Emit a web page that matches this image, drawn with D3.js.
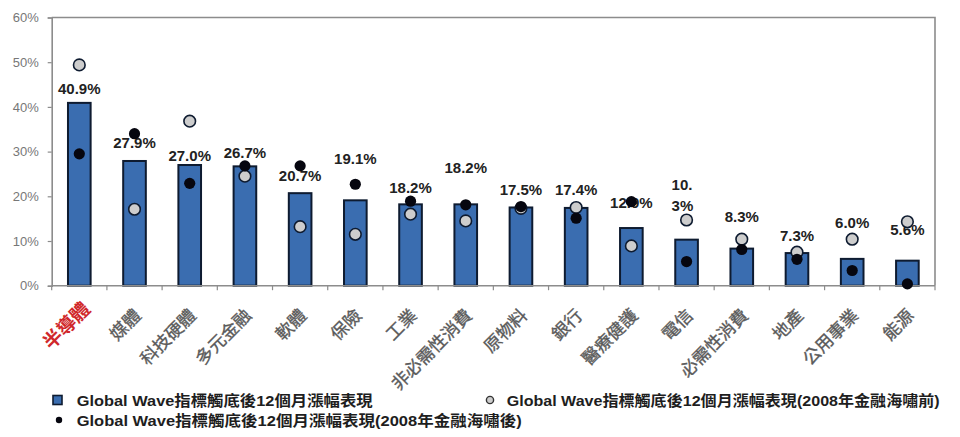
<!DOCTYPE html>
<html>
<head>
<meta charset="utf-8">
<script src="https://cdn.jsdelivr.net/npm/d3@7"></script>
<style>
  html, body { margin: 0; padding: 0; background: #fff; }
  svg { display: block; }
</style>
</head>
<body>
<svg id="chart" width="960" height="437"></svg>
<script>
// ---- data ----
const categories = ["半導體","媒體","科技硬體","多元金融","軟體","保險","工業","非必需性消費","原物料","銀行","醫療健護","電信","必需性消費","地產","公用事業","能源"];
const allPeriods = [40.9, 27.9, 27.0, 26.7, 20.7, 19.1, 18.2, 18.2, 17.5, 17.4, 12.9, 10.3, 8.3, 7.3, 6.0, 5.6];
const pre2008 = [49.4, 17.1, 36.8, 24.5, 13.2, 11.5, 16.0, 14.5, 17.3, 17.5, 8.9, 14.7, 10.4, 7.5, 10.4, 14.3];
const post2008 = [29.5, 34.0, 22.9, 26.8, 26.8, 22.7, 18.9, 18.1, 17.7, 15.1, 18.8, 5.4, 8.1, 5.9, 3.4, 0.4];
const barLabels = ["40.9%","27.9%","27.0%","26.7%","20.7%","19.1%","18.2%","18.2%","17.5%","17.4%","12.9%","10.|3%","8.3%","7.3%","6.0%","5.6%"];
const labelAt = [44.0, 31.9, 29.0, 29.8, 24.6, 28.3, 22.0, 26.4, 21.4, 21.4, 18.6, 22.5, 15.4, 11.2, 14.0, 12.5];
const yTicks = [0, 10, 20, 30, 40, 50, 60];
const legendLabels = [
  "Global Wave指標觸底後12個月漲幅表現",
  "Global Wave指標觸底後12個月漲幅表現(2008年金融海嘯前)",
  "Global Wave指標觸底後12個月漲幅表現(2008年金融海嘯後)"
];

// ---- layout ----
const L = 51.7, R = 935, T = 17.5, B = 285.7;
const svg = d3.select("#chart");

const x = d3.scaleBand().domain(categories).range([L, R]).paddingInner(0.59).paddingOuter(0.295);
const y = d3.scaleLinear().domain([0, 60]).range([B, T]);
const step = x.step();

const barFill = "#3a6db0", barStroke = "#0e1b30";
const grayFill = "#cdcdcd", dotFill = "#06060f";
const frame = "#8c8c8c";

// frame (top & right)
svg.append("path")
  .attr("d", `M${L},${T}H${R}V${B}`)
  .attr("fill", "none").attr("stroke", frame).attr("stroke-width", 1.6);

// y axis
const yAxis = svg.append("g").attr("transform", `translate(${L},0)`)
  .call(d3.axisLeft(y).tickValues(yTicks).tickFormat(d => d + "%").tickSize(4).tickPadding(9));
yAxis.select(".domain").attr("stroke", frame).attr("stroke-width", 1.6);
yAxis.selectAll(".tick line").attr("stroke", frame).attr("stroke-width", 1.2);
yAxis.selectAll(".tick text").attr("fill", "#777")
  .style("font-family", "'Liberation Sans', Arial, sans-serif").style("font-size", "13px");

// bars
svg.append("g").selectAll("rect").data(categories).join("rect")
  .attr("x", d => x(d))
  .attr("y", (d, i) => y(allPeriods[i]))
  .attr("width", x.bandwidth())
  .attr("height", (d, i) => y(0) - y(allPeriods[i]))
  .attr("fill", barFill).attr("stroke", barStroke).attr("stroke-width", 2);

// x axis line and ticks between bands
svg.append("line").attr("x1", L).attr("x2", R).attr("y1", B).attr("y2", B)
  .attr("stroke", frame).attr("stroke-width", 1.6);
const boundaries = categories.map(c => x(c) - step * x.paddingInner() / 2).concat([R]);
svg.append("g").selectAll("line").data(boundaries).join("line")
  .attr("x1", d => d).attr("x2", d => d).attr("y1", B).attr("y2", B + 4.5)
  .attr("stroke", frame).attr("stroke-width", 1.2);

// x labels
svg.append("g").selectAll("text").data(categories).join("text")
  .attr("transform", (d, i) => `translate(${x(d) + x.bandwidth() / 2 + (i === 0 ? 12 : 7.5)},${B + (i === 0 ? 24.5 : 31)}) rotate(-45)`)
  .attr("text-anchor", "end")
  .attr("fill", (d, i) => i === 0 ? "#d0282b" : "#5a5a5a")
  .attr("stroke", (d, i) => i === 0 ? "none" : "#5a5a5a")
  .attr("stroke-width", 0.35)
  .style("font-family", "'Noto Sans CJK TC', sans-serif")
  .style("font-size", (d, i) => i === 0 ? "19px" : "17.5px")
  .style("font-weight", (d, i) => i === 0 ? "bold" : "normal")
  .text(d => d);

// bar value labels
const lbl = svg.append("g").selectAll("text").data(categories).join("text")
  .attr("x", d => x(d) + x.bandwidth() / 2)
  .attr("y", (d, i) => y(labelAt[i]))
  .attr("dy", "0.35em")
  .attr("text-anchor", "middle")
  .attr("fill", "#222")
  .style("font-family", "'Liberation Sans', Arial, sans-serif")
  .style("font-size", "15px").style("font-weight", "bold");
lbl.each(function(d, i) {
  const parts = barLabels[i].split("|");
  const t = d3.select(this);
  if (parts.length === 1) { t.text(parts[0]); return; }
  t.attr("text-anchor", "start");
  const x0 = x(d) + x.bandwidth() / 2 - 15;
  parts.forEach((p, k) => t.append("tspan").attr("x", x0).attr("dy", k === 0 ? "0.35em" : "1.35em").text(p));
});

// pre-2008 dots (gray)
svg.append("g").selectAll("circle").data(categories).join("circle")
  .attr("cx", d => x(d) + x.bandwidth() / 2)
  .attr("cy", (d, i) => y(pre2008[i]))
  .attr("r", 5.8)
  .attr("fill", grayFill).attr("stroke", barStroke).attr("stroke-width", 1.6);

// post-2008 dots (black)
svg.append("g").selectAll("circle").data(categories).join("circle")
  .attr("cx", d => x(d) + x.bandwidth() / 2)
  .attr("cy", (d, i) => y(post2008[i]))
  .attr("r", 5.6)
  .attr("fill", dotFill);

// legend
const lg = svg.append("g")
  .style("font-family", "'Liberation Sans', Arial, 'Noto Sans CJK TC', sans-serif")
  .style("font-size", "15px").style("font-weight", "bold").attr("fill", "#1e1e1e");
lg.append("rect").attr("x", 53).attr("y", 395.5).attr("width", 9).attr("height", 9)
  .attr("fill", barFill).attr("stroke", barStroke).attr("stroke-width", 1.6);
lg.append("text").attr("x", 76.7).attr("y", 405.5).attr("textLength", 296).attr("lengthAdjust", "spacingAndGlyphs").text(legendLabels[0]);
lg.append("circle").attr("cx", 490).attr("cy", 400).attr("r", 3.6)
  .attr("fill", grayFill).attr("stroke", "#333").attr("stroke-width", 1.4);
lg.append("text").attr("x", 506.7).attr("y", 405.5).attr("textLength", 433).attr("lengthAdjust", "spacingAndGlyphs").text(legendLabels[1]);
lg.append("circle").attr("cx", 59).attr("cy", 420).attr("r", 3.2).attr("fill", dotFill);
lg.append("text").attr("x", 76.7).attr("y", 425.5).attr("textLength", 445).attr("lengthAdjust", "spacingAndGlyphs").text(legendLabels[2]);
</script>
</body>
</html>
